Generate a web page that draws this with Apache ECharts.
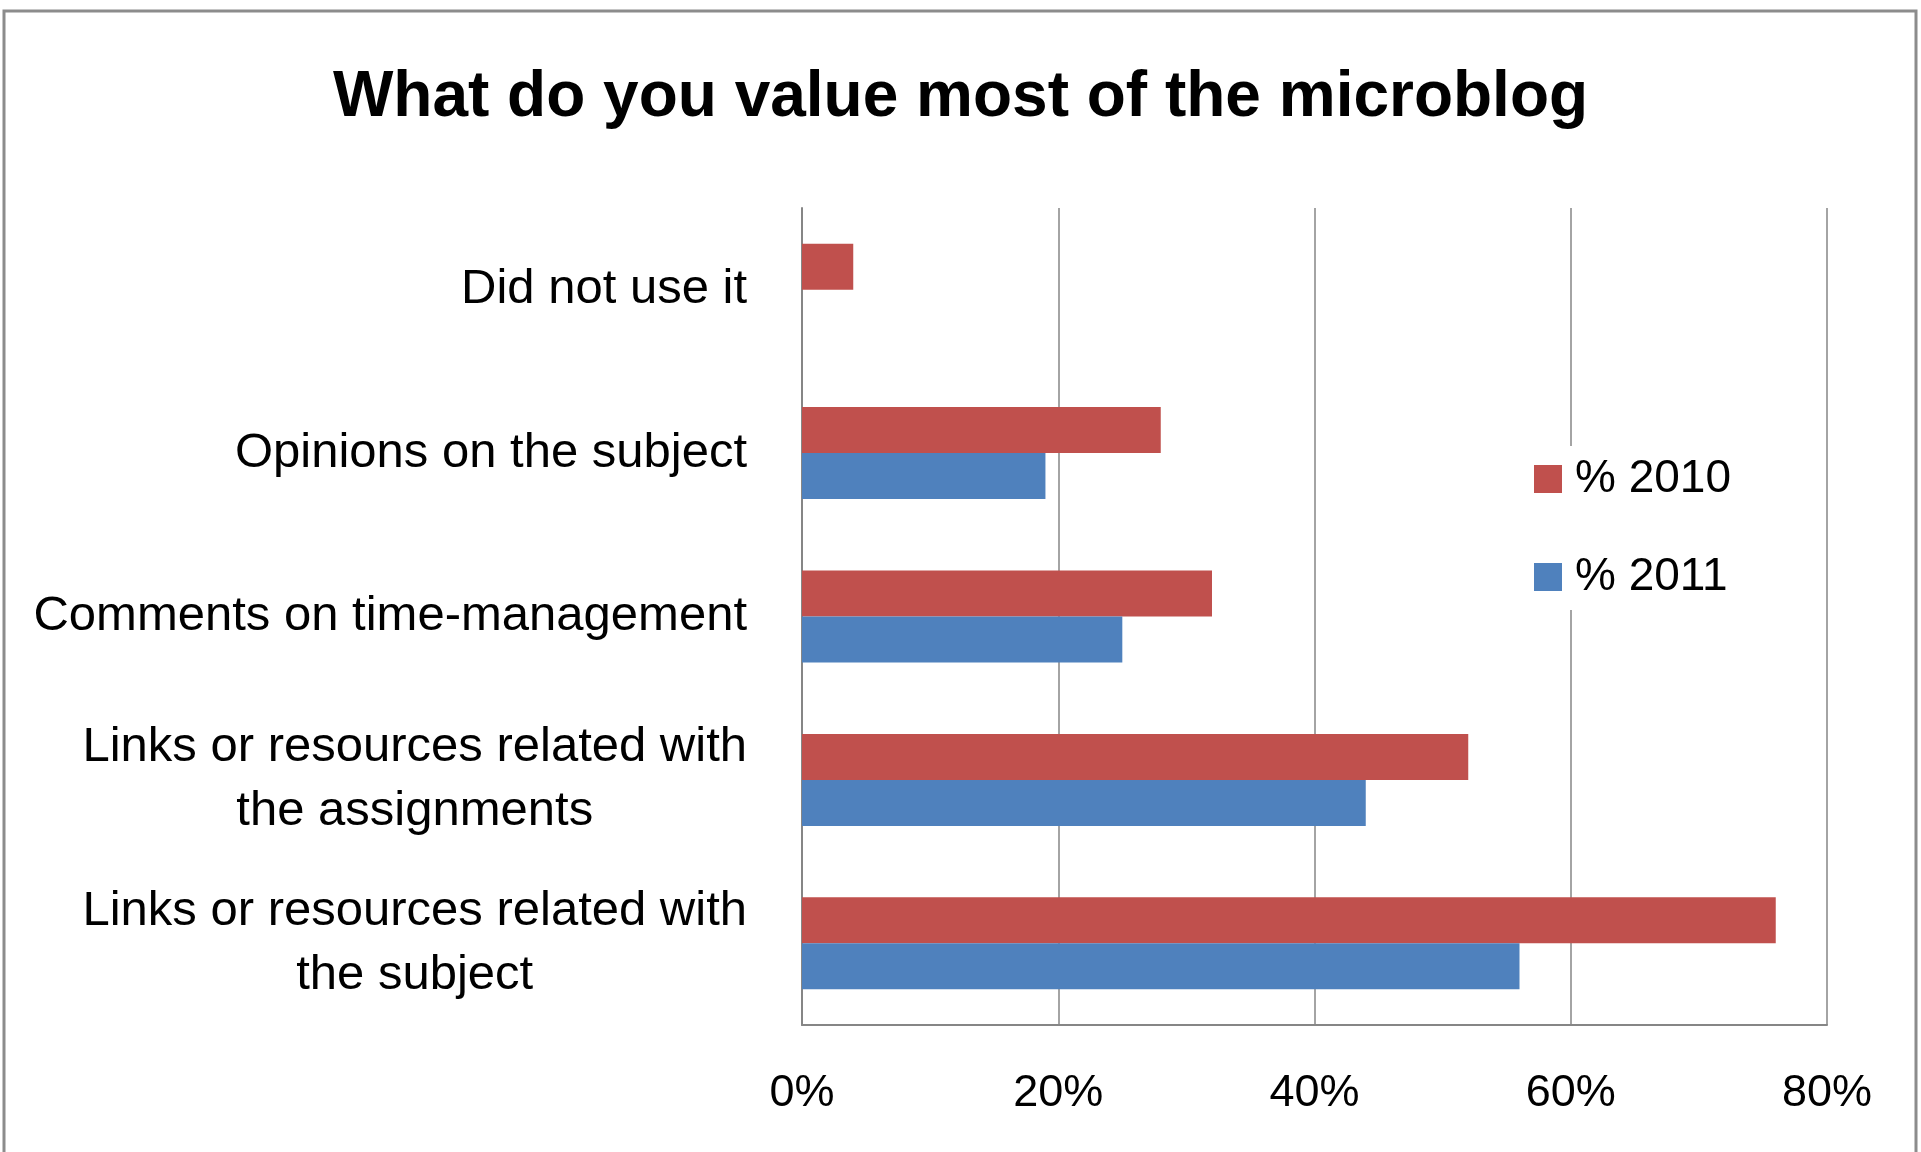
<!DOCTYPE html>
<html>
<head>
<meta charset="utf-8">
<script src="https://cdn.jsdelivr.net/npm/echarts@6/dist/echarts.min.js"></script>
<style>
html,body{margin:0;padding:0;background:#fff;}
#chart{width:1921px;height:1152px;}
</style>
</head>
<body>
<div id="chart"></div>
<script>
// Categories listed bottom-to-top (ECharts category y axis starts at bottom)
const categories = [
  "Links or resources related with\nthe subject",
  "Links or resources related with\nthe assignments",
  "Comments on time-management",
  "Opinions on the subject",
  "Did not use it"
];
const series2010 = [76, 52, 32, 28, 4];
const series2011 = [56, 44, 25, 19, null];
const seriesNames = ["% 2010", "% 2011"];
const xTicks = [0, 20, 40, 60, 80];
const titleText = "What do you value most of the microblog";

const FONT = "Liberation Sans";
const LABEL_SIZE = 49;

const cv = document.createElement('canvas').getContext('2d');
cv.font = LABEL_SIZE + 'px "' + FONT + '"';
function labelFormatter(v) {
  const lines = v.split('\n');
  if (lines.length === 1) return v;
  return lines.map(l => '{c|' + l + '}').join('\n');
}
let maxW = 0;
categories.forEach(c => { if (c.indexOf('\n') >= 0) c.split('\n').forEach(l => { maxW = Math.max(maxW, cv.measureText(l).width); }); });

const chart = echarts.init(document.getElementById('chart'), null, {renderer: 'canvas'});
chart.setOption({
  backgroundColor: '#fff',
  animation: false,
  title: {
    text: titleText,
    left: 'center',
    top: 61,
    textStyle: {fontFamily: FONT, fontSize: 64, fontWeight: 'bold', color: '#000'}
  },
  graphic: [{
    type: 'rect',
    shape: {x: 4, y: 11, width: 1912, height: 1150},
    style: {fill: 'none', stroke: '#8c8c8c', lineWidth: 3},
    silent: true, z: 100
  }],
  legend: {
    orient: 'vertical',
    left: 1526,
    top: 446,
    itemWidth: 28,
    itemHeight: 28,
    itemGap: 48,
    icon: 'rect',
    backgroundColor: '#fff',
    padding: [8, 8, 8, 8],
    textStyle: {fontFamily: FONT, fontSize: 46, lineHeight: 50, color: '#000', padding: [0, 0, 0, 8]},
    data: seriesNames
  },
  grid: {left: 802, right: 94, top: 208, bottom: 127, containLabel: false},
  xAxis: {
    type: 'value',
    min: 0, max: 80, interval: 20,
    axisLine: {show: true, lineStyle: {color: '#868686', width: 2}},
    axisTick: {show: false},
    splitLine: {show: true, lineStyle: {color: '#868686', width: 1.5}},
    axisLabel: {
      fontFamily: FONT, fontSize: 45, color: '#000', margin: 46,
      formatter: v => xTicks.indexOf(v) >= 0 ? v + '%' : ''
    }
  },
  yAxis: {
    type: 'category',
    data: categories,
    axisLine: {show: true, lineStyle: {color: '#868686', width: 2}},
    axisTick: {show: false},
    axisLabel: {
      fontFamily: FONT, fontSize: LABEL_SIZE, color: '#000', margin: 55,
      lineHeight: 64, align: 'right',
      formatter: labelFormatter,
      rich: {c: {fontFamily: FONT, fontSize: LABEL_SIZE, color: '#000', width: maxW, align: 'center', lineHeight: 64}}
    }
  },
  series: [
    {name: seriesNames[0], type: 'bar', data: series2010, barWidth: 46, barGap: '0%',
     itemStyle: {color: '#c0504d'}},
    {name: seriesNames[1], type: 'bar', data: series2011, barWidth: 46, barGap: '0%',
     itemStyle: {color: '#4f81bd'}}
  ]
});
</script>
</body>
</html>
